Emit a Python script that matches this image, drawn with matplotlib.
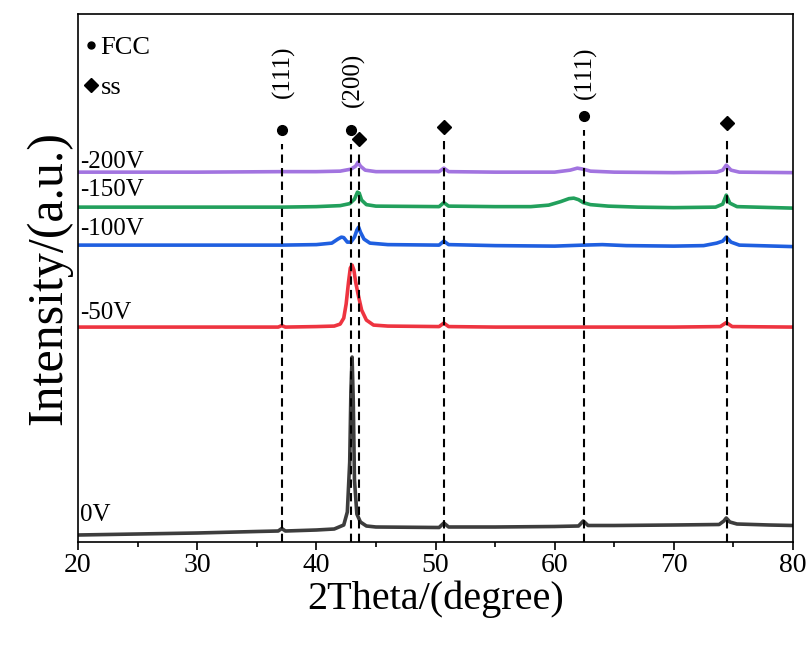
import matplotlib
matplotlib.use('Agg')
import matplotlib.pyplot as plt
from matplotlib.lines import Line2D

plt.rcParams['font.family'] = ['Liberation Serif', 'DejaVu Sans']

# XRD patterns (intensity in arbitrary units, offset stacked)
x_0v = [20, 25, 30, 35, 36.8, 37.1, 37.4, 40, 41.5, 42.3, 42.6, 42.8, 42.9, 43.0, 43.1,
        43.2, 43.4, 43.7, 44.2, 45, 50.3, 50.7, 51.1, 55, 60, 62.0, 62.4, 62.8, 65, 70,
        73.8, 74.2, 74.4, 74.7, 75.3, 78, 80]
y_0v = [7, 8, 9, 10.5, 11, 13.5, 11, 12, 13, 17, 30, 80, 150, 185, 140,
        62, 28, 20, 16, 15, 14.5, 19, 15, 15, 15.5, 16, 21, 16.5, 16.5, 17,
        17.5, 21, 24, 20, 18, 17, 16.5]

x_50v = [20, 30, 36.8, 37.1, 37.4, 40, 41.5, 42.0, 42.3, 42.5, 42.7, 42.85, 43.0, 43.15,
         43.3, 43.5, 43.8, 44.2, 44.8, 46, 50.3, 50.7, 51.1, 55, 60, 65, 70, 73.9, 74.4,
         74.9, 80]
y_50v = [215, 215, 215, 216.5, 215, 215.5, 216, 218, 224, 238, 260, 274, 277, 272,
         260, 248, 232, 222, 217, 216, 215.5, 219, 215.5, 215, 215, 215, 215, 215.5, 219.5,
         215.5, 215]

x_100v = [20, 30, 37.1, 40, 41.3, 41.8, 42.1, 42.3, 42.6, 42.9, 43.2, 43.4, 43.55, 43.7,
          44.0, 44.5, 46, 50.3, 50.7, 51.1, 55, 60, 62.4, 64, 66, 70, 72.5, 73.6, 74.1,
          74.4, 74.8, 75.5, 80]
y_100v = [297, 297, 297, 297.5, 299, 303, 305, 304.5, 300, 300, 305, 312, 315, 310,
          303, 299, 297.5, 297, 301, 297.5, 296.5, 296, 297, 297.5, 296.5, 296, 296.5, 299, 301,
          305, 300, 297, 295.5]

x_150v = [20, 30, 37.1, 40, 42.0, 42.8, 43.2, 43.45, 43.6, 43.8, 44.2, 45, 50.3, 50.7,
          51.1, 55, 58, 59.5, 60.5, 61.2, 61.6, 62.0, 62.4, 63, 64.5, 67, 70, 73.5, 74.1,
          74.4, 74.7, 75.3, 80]
y_150v = [335, 335, 335, 335.5, 336.5, 338.5, 343, 350, 349, 342, 337.5, 336, 335.5, 339.5,
          336, 335.5, 335.5, 337, 340.5, 343.5, 344, 342.5, 339.5, 337.5, 336, 335, 334.5, 335, 338,
          347, 339, 335.5, 334]

x_200v = [20, 30, 37.1, 40, 42.0, 42.9, 43.3, 43.5, 43.7, 44.1, 45, 50.3, 50.7, 51.1,
          55, 60, 61.3, 61.9, 62.4, 63, 65, 70, 73.6, 74.1, 74.4, 74.8, 75.5, 80]
y_200v = [370, 370, 370.5, 370.5, 371, 373, 376, 380, 376, 372, 370.5, 370.5, 374, 370.5,
          370, 370, 372, 374, 373, 371, 370, 369.5, 370, 372, 377, 372, 370, 369.5]

series = [
    ('0V', x_0v, y_0v, '#3d3d3d', 27),
    ('-50V', x_50v, y_50v, '#ee3440', 229),
    ('-100V', x_100v, y_100v, '#1f5fe0', 313),
    ('-150V', x_150v, y_150v, '#22a05c', 352),
    ('-200V', x_200v, y_200v, '#a274e0', 380),
]

# reference peak positions
peak_pos = [37.1, 42.95, 43.6, 50.7, 62.45, 74.45]
peak_phase = ['FCC', 'FCC', 'ss', 'ss', 'FCC', 'ss']
peak_mark_y = [412, 412, 403, 415, 426, 419]
hkl_pos = [37.1, 42.95, 62.45]
hkl_text = ['(111)', '(200)', '(111)']
hkl_y = [470, 462, 469]

fig = plt.figure(figsize=(8.11, 6.46), dpi=100)
ax = fig.add_axes([0.0962, 0.161, 0.8816, 0.817])

for label, xs, ys, color, ly in series:
    ax.plot(xs, ys, color=color, lw=2.6, solid_joinstyle='round')
    ax.text(20.2, ly, label, fontsize=18, va='center', ha='left')

for p, ph, my in zip(peak_pos, peak_phase, peak_mark_y):
    ax.plot([p, p], [0, my - 14], color='black', lw=1.5, ls=(0, (4, 2.5)))
    if ph == 'FCC':
        ax.plot(p, my, marker='o', ms=7, color='black')
    else:
        ax.plot(p, my, marker='D', ms=7.5, color='black')

for p, t, hy in zip(hkl_pos, hkl_text, hkl_y):
    ax.text(p + 0.15, hy, t, rotation=90, fontsize=18, ha='center', va='center')

handles = [Line2D([], [], marker='o', ls='none', color='black', ms=5),
           Line2D([], [], marker='D', ls='none', color='black', ms=7)]
ax.legend(handles, ['FCC', 'ss'], loc='upper left', bbox_to_anchor=(0.0, 0.975),
          frameon=False, fontsize=19, handlelength=0.4, handletextpad=0.15,
          labelspacing=0.65, borderaxespad=0.1, borderpad=0.2)

ax.set_xlim(20, 80)
ax.set_ylim(0, 528)
ax.set_xticks([20, 30, 40, 50, 60, 70, 80])
ax.set_xticks([25, 35, 45, 55, 65, 75], minor=True)
ax.set_yticks([])
ax.tick_params(axis='x', which='major', direction='out', length=6, width=1.2,
               labelsize=20, pad=2)
ax.tick_params(axis='x', which='minor', direction='out', length=3.5, width=1.2)
for s in ax.spines.values():
    s.set_linewidth(1.2)

ax.set_xlabel('2Theta/(degree)', fontsize=29, labelpad=2)
ax.set_ylabel('Intensity/(a.u.)', fontsize=36, labelpad=4)

fig.savefig('out.png', dpi=100)
